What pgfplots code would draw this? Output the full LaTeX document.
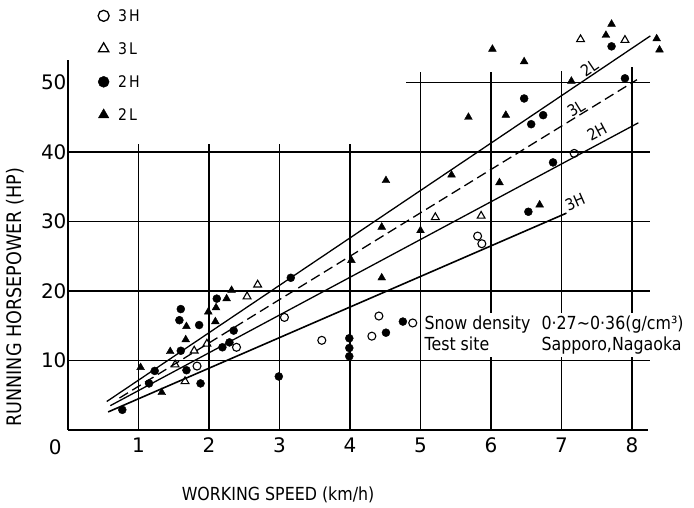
\documentclass[border=0pt]{standalone}
\usepackage{fontspec}
\setmainfont{DejaVu Sans}
\newfontfamily\lblfont[FakeStretch=0.88]{DejaVu Sans}
\usepackage{pgfplots}
\pgfplotsset{compat=1.18}
\newcommand{\legfont}{\lblfont\fontsize{16}{16}\selectfont}

\begin{document}
\begin{tikzpicture}
\begin{axis}[
  x=70.5pt, y=6.95pt,
  xmin=0, xmax=8.22, ymin=0, ymax=53.2,
  axis lines=left,
  axis line style={-, line width=1.8pt},
  xtick={1,...,8}, ytick={10,20,30,40,50},
  major tick length=0pt,
  /pgf/number format/assume math mode=true,
  ticklabel style={font=\fontsize{20}{20}\selectfont},
  xticklabel style={anchor=north, yshift=-4pt},
  yticklabel style={anchor=east, xshift=2pt},
  clip=false,
  legend style={at={(axis cs:0.425,60.7)}, anchor=north west, draw=none, fill=none,
    inner sep=0pt, row sep=18pt,
    nodes={inner sep=2pt, text height=11pt, text depth=0pt},
    /tikz/every odd column/.append style={column sep=7pt}},
  legend cell align=left,
  legend image code/.code={\draw[#1] plot coordinates {(6pt,0pt)};},
]
% legend
\addlegendimage{black, only marks, mark=o, mark size=5.5pt, line width=1.3pt}
\addlegendentry{\legfont 3\hspace{2pt}H}
\addlegendimage{black, only marks, mark=triangle, mark size=6pt, line width=1.3pt}
\addlegendentry{\legfont 3\hspace{2pt}L}
\addlegendimage{black, only marks, mark=*, mark size=5.5pt}
\addlegendentry{\legfont 2\hspace{2pt}H}
\addlegendimage{black, only marks, mark=triangle*, mark size=6pt}
\addlegendentry{\legfont 2\hspace{2pt}L}

% partial grid
\draw[line width=1.2pt] (axis cs:0,10) -- (axis cs:8.26,10);
\draw[line width=1.2pt] (axis cs:0,20) -- (axis cs:8.26,20);
\draw[line width=1.2pt] (axis cs:0,30) -- (axis cs:8.26,30);
\draw[line width=1.2pt] (axis cs:0,40) -- (axis cs:8.26,40);
\draw[line width=1.2pt] (axis cs:4.8,50) -- (axis cs:8.26,50);
\draw[line width=1.2pt] (axis cs:1,0) -- (axis cs:1,41.2);
\draw[line width=1.2pt] (axis cs:2,0) -- (axis cs:2,41.2);
\draw[line width=1.2pt] (axis cs:3,0) -- (axis cs:3,41.2);
\draw[line width=1.2pt] (axis cs:4,0) -- (axis cs:4,41.2);
\draw[line width=1.2pt] (axis cs:5,0) -- (axis cs:5,51.5);
\draw[line width=1.2pt] (axis cs:6,0) -- (axis cs:6,51.5);
\draw[line width=1.2pt] (axis cs:7,0) -- (axis cs:7,51.7);
\draw[line width=1.2pt] (axis cs:8,0) -- (axis cs:8,52.2);

% fitted lines
\addplot[black, line width=1.3pt, forget plot] coordinates {(0.55,4.1) (8.26,56.7)};
\addplot[black, line width=1.3pt, dash pattern=on 10pt off 5pt, forget plot] coordinates {(0.73,4.6) (8.07,50.4)};
\addplot[black, line width=1.3pt, forget plot] coordinates {(0.6,3.5) (8.09,44.2)};
\addplot[black, line width=1.6pt, forget plot] coordinates {(0.57,2.6) (7.07,31.2)};

% 3H
\addplot[black, only marks, mark=o, mark size=4pt, line width=1.1pt, forget plot] coordinates {
(1.83,9.2) (2.39,11.9) (3.07,16.2) (3.60,12.9) (4.31,13.5) (4.41,16.4)
(4.89,15.4) (5.81,27.9) (5.87,26.8) (7.18,39.8)
};
% 3L
\addplot[black, only marks, mark=triangle, mark size=4.5pt, line width=1.1pt, forget plot] coordinates {
(1.52,9.4) (1.66,7.0) (1.79,11.4) (1.97,12.4) (2.54,19.2) (2.69,20.9)
(5.21,30.6) (5.86,30.8) (7.27,56.2) (7.90,56.1)
};
% 2H
\addplot[black, only marks, mark=*, mark size=4pt, forget plot] coordinates {
(0.77,2.9) (1.15,6.7) (1.23,8.5) (1.58,15.8) (1.60,17.4) (1.60,11.4)
(1.68,8.6) (1.86,15.1) (1.88,6.7) (2.11,18.9) (2.19,11.9) (2.29,12.6)
(2.35,14.3) (2.99,7.7) (3.16,21.9) (3.99,13.2) (3.99,11.8) (3.99,10.6)
(4.51,14.0) (4.75,15.6) (6.47,47.7) (6.57,44.0) (6.74,45.3) (6.53,31.4)
(6.88,38.5) (7.71,55.2) (7.90,50.6)
};
% 2L
\addplot[black, only marks, mark=triangle*, mark size=4.5pt, forget plot] coordinates {
(1.03,9.0) (1.33,5.4) (1.45,11.3) (1.67,13.0) (1.68,14.9) (1.99,17.0)
(2.09,15.6) (2.10,17.6) (2.25,18.9) (2.32,20.1) (4.02,24.4) (4.45,21.9)
(4.45,29.2) (4.51,35.9) (5.00,28.7) (5.44,36.7) (5.68,45.0) (6.02,54.8)
(6.12,35.6) (6.21,45.3) (6.47,53.0) (6.69,32.4) (7.14,50.2) (7.63,56.8)
(7.71,58.4) (8.35,56.3) (8.39,54.7)
};

% line labels, set on top of their lines
\node[rotate=34, anchor=south, inner sep=1pt, font=\lblfont\fontsize{16}{16}\selectfont] at (axis cs:7.45,51.2) {2L};
\node[rotate=31.6, anchor=south, inner sep=1pt, font=\lblfont\fontsize{16}{16}\selectfont] at (axis cs:7.26,45.35) {3L};
\node[rotate=28, anchor=south, inner sep=1pt, font=\lblfont\fontsize{16}{16}\selectfont] at (axis cs:7.55,42.0) {2H};
\node[rotate=23.5, anchor=south west, inner sep=1pt, font=\lblfont\fontsize{16}{16}\selectfont] at (axis cs:7.09,31.2) {3H};

% annotation
\node[anchor=west, fill=white, inner sep=1pt, font=\lblfont\fontsize{18}{21}\selectfont]
  at (axis cs:5.04,13.6)
  {\begin{tabular}{@{}p{117pt}@{}l@{}}Snow density & 0·27∼0·36(g/cm³)\\ Test site & Sapporo,Nagaoka\end{tabular}};

% origin label and axis titles
\node[font=\fontsize{20}{20}\selectfont, anchor=north] at ([yshift=-6pt]axis cs:-0.18,0) {0};
\node[font=\lblfont\fontsize{18}{18}\selectfont] at ([yshift=-65pt]axis cs:2.98,0) {WORKING SPEED (km/h)};
\node[rotate=90, font=\lblfont\fontsize{20}{20}\selectfont] at ([xshift=-53pt]axis cs:0,19.1) {RUNNING HORSEPOWER (HP)};
\end{axis}
\path (-68pt,-78pt) rectangle (626pt,430pt);
\end{tikzpicture}
\end{document}
